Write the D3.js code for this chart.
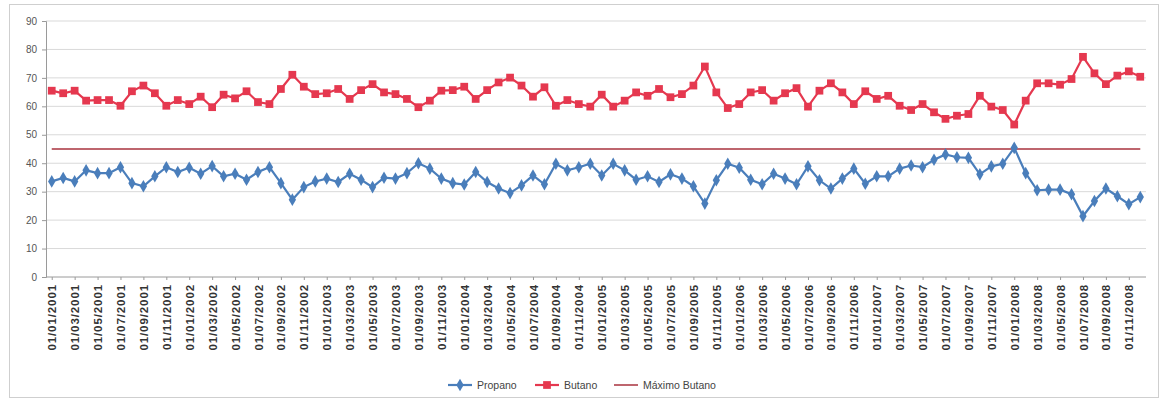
<!DOCTYPE html>
<html>
<head>
<meta charset="utf-8">
<script src="https://cdn.jsdelivr.net/npm/d3@7"></script>
<style>
  body { margin: 0; background: #fff; }
  svg { font-family: "Liberation Sans", Arial, sans-serif; }
</style>
</head>
<body>
<div id="vis"></div>
<script>
const W = 1161, H = 402;
const margin = {top: 21, right: 15, bottom: 125, left: 46};

// monthly categories, 01/2001 .. 12/2008
const months = d3.timeMonth.range(new Date(2001, 0, 1), new Date(2009, 0, 1));
const fmt = d3.timeFormat("%d/%m/%Y");

// values
const propano = [
  33.6, 34.8, 33.6, 37.5, 36.5, 36.5, 38.6, 33.0, 31.9, 35.4,
  38.6, 36.9, 38.4, 36.3, 39.0, 35.4, 36.3, 34.2, 36.9, 38.6,
  33.0, 27.2, 31.6, 33.6, 34.6, 33.4, 36.3, 34.2, 31.6, 34.9,
  34.6, 36.5, 40.0, 38.1, 34.6, 33.0, 32.5, 36.9, 33.4, 31.1,
  29.5, 32.2, 35.7, 32.6, 39.8, 37.5, 38.6, 39.8, 35.7, 39.8,
  37.5, 34.2, 35.4, 33.4, 36.1, 34.6, 31.9, 25.8, 34.0, 39.8,
  38.4, 34.2, 32.6, 36.3, 34.6, 32.6, 38.9, 34.0, 31.1, 34.6,
  38.1, 32.8, 35.4, 35.4, 38.1, 39.2, 38.6, 41.2, 43.1, 42.1,
  41.9, 36.1, 38.9, 39.8, 45.4, 36.5, 30.5, 30.7, 30.7, 29.1,
  21.4, 26.7, 31.1, 28.4, 25.6, 28.1
];
const butano = [
  65.5, 64.6, 65.5, 62.0, 62.2, 62.2, 60.2, 65.3, 67.3, 64.6,
  60.2, 62.2, 60.8, 63.4, 59.7, 64.1, 62.8, 65.3, 61.5, 60.8,
  66.1, 71.1, 66.9, 64.3, 64.6, 66.1, 62.6, 65.7, 67.8, 64.9,
  64.3, 62.6, 59.7, 62.0, 65.5, 65.7, 66.9, 62.6, 65.7, 68.4,
  70.1, 67.3, 63.4, 66.7, 60.2, 62.2, 60.8, 59.9, 64.1, 59.9,
  62.0, 64.9, 63.7, 66.1, 63.2, 64.3, 67.3, 74.0, 64.9, 59.4,
  60.8, 64.9, 65.7, 62.0, 64.6, 66.4, 59.9, 65.5, 68.1, 64.9,
  60.8, 65.3, 62.6, 63.7, 60.2, 58.7, 60.8, 57.9, 55.6, 56.7,
  57.3, 63.7, 59.9, 58.7, 53.6, 62.0, 68.1, 68.1, 67.6, 69.6,
  77.4, 71.6, 67.8, 70.8, 72.3, 70.4
];
const maxButano = 45;
const yTicks = [0, 10, 20, 30, 40, 50, 60, 70, 80, 90];

const cProp = "#4a7ebb", cBut = "#e5384f", cMax = "#a8323e";

const svg = d3.select("#vis").append("svg")
    .attr("width", W).attr("height", H);

// chart frame
svg.append("rect")
    .attr("x", 9.5).attr("y", 4.5)
    .attr("width", 1149).attr("height", 393)
    .attr("fill", "none").attr("stroke", "#cfcfcf");

const x = d3.scalePoint()
    .domain(d3.range(months.length))
    .range([margin.left, W - margin.right])
    .padding(0.5);

const y = d3.scaleLinear()
    .domain([0, 90])
    .range([H - margin.bottom, margin.top]);

// gridlines
svg.append("g")
    .selectAll("line")
    .data(yTicks)
    .join("line")
    .attr("x1", margin.left).attr("x2", W - margin.right)
    .attr("y1", d => y(d)).attr("y2", d => y(d))
    .attr("stroke", d => d === 0 ? "#9a9a9a" : "#d9d9d9")
    .attr("stroke-width", 1);

// y axis
const yAxis = svg.append("g")
    .attr("transform", `translate(${margin.left},0)`)
    .call(d3.axisLeft(y).tickValues(yTicks).tickSize(4).tickPadding(5));
yAxis.select(".domain").attr("stroke", "#9a9a9a");
yAxis.selectAll(".tick line").attr("stroke", "#9a9a9a");
yAxis.selectAll("text").attr("fill", "#555").attr("font-size", 10);

// x axis labels every two months
const xAxis = svg.append("g")
    .attr("transform", `translate(0,${y(0)})`)
    .call(d3.axisBottom(x)
        .tickValues(d3.range(0, months.length, 2))
        .tickFormat(i => fmt(months[i]))
        .tickSize(3));
xAxis.select(".domain").remove();
xAxis.selectAll(".tick line").attr("stroke", "#9a9a9a");
xAxis.selectAll("text")
    .attr("transform", "rotate(-90)")
    .attr("text-anchor", "end")
    .attr("x", -7).attr("y", 0).attr("dy", "0.35em")
    .attr("fill", "#333")
    .attr("font-size", 11.5)
    .attr("font-weight", "bold")
    .attr("letter-spacing", 0.9);

// máximo butano line
svg.append("line")
    .attr("x1", x(0)).attr("x2", x(months.length - 1))
    .attr("y1", y(maxButano)).attr("y2", y(maxButano))
    .attr("stroke", cMax).attr("stroke-width", 1.5);

const line = d3.line().x((d, i) => x(i)).y(d => y(d));

svg.append("path").datum(propano)
    .attr("d", line).attr("fill", "none")
    .attr("stroke", cProp).attr("stroke-width", 2.2);
svg.append("path").datum(butano)
    .attr("d", line).attr("fill", "none")
    .attr("stroke", cBut).attr("stroke-width", 2.2);

const diamond = d3.symbol().type(d3.symbolDiamond).size(46);
const square = d3.symbol().type(d3.symbolSquare).size(60);

svg.append("g").selectAll("path")
    .data(propano)
    .join("path")
    .attr("d", diamond)
    .attr("transform", (d, i) => `translate(${x(i)},${y(d)})`)
    .attr("fill", cProp);

svg.append("g").selectAll("path")
    .data(butano)
    .join("path")
    .attr("d", square)
    .attr("transform", (d, i) => `translate(${x(i)},${y(d)})`)
    .attr("fill", cBut);

// legend
const legendItems = [
  {name: "Propano", color: cProp, marker: diamond, x: 448},
  {name: "Butano", color: cBut, marker: square, x: 535},
  {name: "Máximo Butano", color: cMax, marker: null, x: 614}
];
const ly = 385;
const lg = svg.append("g").selectAll("g")
    .data(legendItems)
    .join("g")
    .attr("transform", d => `translate(${d.x},${ly})`);
lg.append("line")
    .attr("x1", 0).attr("x2", 24)
    .attr("stroke", d => d.color)
    .attr("stroke-width", d => d.marker ? 2.2 : 1.5);
lg.filter(d => d.marker)
    .append("path")
    .attr("d", d => d.marker())
    .attr("transform", "translate(12,0)")
    .attr("fill", d => d.color);
lg.append("text")
    .attr("x", 29).attr("dy", "0.35em")
    .attr("font-size", 10.5)
    .attr("fill", "#444")
    .text(d => d.name);
</script>
</body>
</html>
